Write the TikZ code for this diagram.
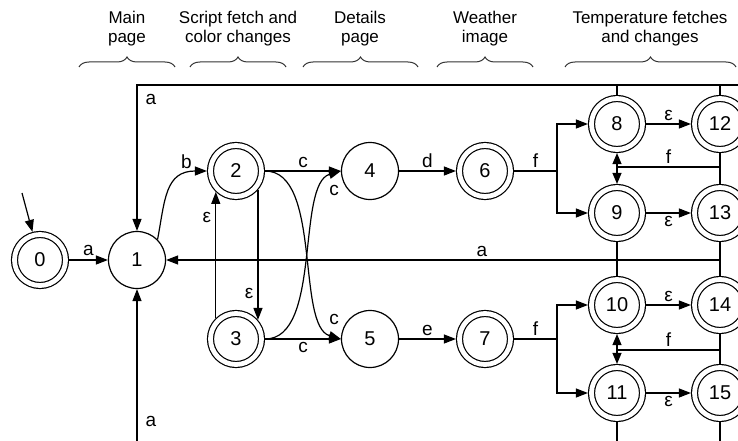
\documentclass[tikz,border=0pt]{standalone}
\usepackage{fontspec}
\setmainfont{Liberation Sans}
\usetikzlibrary{arrows.meta,decorations.pathreplacing}

\tikzset{
  state/.style={circle,draw,line width=1.2pt,minimum size=57pt,inner sep=0pt,outer sep=0.6pt,
    font=\fontsize{20}{22}\selectfont},
  accept/.style={state,double,double distance=4.8pt,minimum size=51pt,outer sep=3.6pt},
  edge/.style={line width=1.2pt,-{Triangle[length=12pt,width=9pt]}},
  both/.style={line width=1.2pt,{Triangle[length=11pt,width=9pt]}-{Triangle[length=11pt,width=9pt]}},
  wire/.style={line width=1.2pt},
  lbl/.style={font=\fontsize{19}{21}\selectfont,inner sep=2pt},
  brc/.style={line width=1pt,black!80,decorate,decoration={brace,amplitude=10pt}},
  head/.style={align=center,font=\fontsize{17}{19}\selectfont}
}

\begin{document}
\begin{tikzpicture}[x=1pt,y=-1pt]
  \useasboundingbox (0,0) rectangle (738,441);

  % headers
  \foreach \nm/\x/\txt/\l/\r in {hMain/127/{Main\\page}/79/175,
      hScript/238/{Script fetch and\\color changes}/190/286,
      hDetails/360/{Details\\page}/303/418,
      hWeather/485/{Weather\\image}/437/533,
      hTemp/650/{Temperature fetches\\and changes}/565/736} {
    \node[head] (\nm) at (\x,29) {\txt};
    \draw[brc] (\l,67) -- (\r,67);
  }

  % states
  \node[accept] (q0) at (40,260) {0};
  \node[state] (q1) at (137,260) {1};
  \node[accept] (q2) at (236,171) {2};
  \node[accept] (q3) at (236,339) {3};
  \node[state] (q4) at (370,171) {4};
  \node[state] (q5) at (370,339) {5};
  \node[accept] (q6) at (485,171) {6};
  \node[accept] (q7) at (485,339) {7};
  \foreach \n/\y in {8/124,9/213,10/305,11/393}
    \node[accept] (q\n) at (617,\y) {\n};
  \foreach \n/\y in {12/124,13/213,14/305,15/393}
    \node[accept] (q\n) at (720,\y) {\n};

  % free ends
  \coordinate (start) at (22,193);
  \coordinate (topR) at (738,85);
  \coordinate (topL) at (137,85);
  \coordinate (botA) at (137,441);
  \coordinate (midR) at (720,260);
  \coordinate (j6) at (557,171);
  \coordinate (j7) at (557,339);
  \coordinate (f1) at (720,167);
  \coordinate (f2) at (720,350);
  \coordinate (bot11) at (617,441);
  \coordinate (bot15) at (720,441);

  \draw[edge] (start) -- (q0);
  \draw[edge] (q0) -- node[lbl,above=2pt] {a} (q1);

  % returns to 1
  \draw[edge] (topR) -- (topL) -- node[lbl,pos=0.1,right=6pt] {a} (q1);
  \draw[wire] (q8) -- (q8 |- topR);
  \draw[wire] (q12) -- (q12 |- topR);
  \draw[edge] (botA) -- node[lbl,pos=0.13,right=6pt] {a} (q1);
  \draw[edge] (midR) -- node[lbl,pos=0.43,above=1pt] {a} (q1);

  % script fetch
  \draw[edge] (q1.45) .. controls (165,200) and (165,171) .. node[lbl,pos=0.8,above=3pt] {b} (q2.west);
  \draw[edge] (q2.-41) -- node[lbl,pos=0.8,left=2pt] {ε} (q3.41);
  \draw[edge] (q3.134) -- node[lbl,pos=0.8,left=2pt] {ε} (q2.226);
  \draw[edge] (q2) -- node[lbl,above=1pt] {c} (q4);
  \draw[edge] (q3) -- node[lbl,below=1pt] {c} (q5);
  \draw[edge] (q2.east) .. controls (322,171) and (296,326) .. node[lbl,pos=0.82,right=4pt] {c} (q5.west);
  \draw[edge] (q3.east) .. controls (322,339) and (296,184) .. node[lbl,pos=0.82,right=4pt] {c} (q4.west);

  % details and weather
  \draw[edge] (q4) -- node[lbl,above=1pt] {d} (q6);
  \draw[edge] (q5) -- node[lbl,above=1pt] {e} (q7);
  \draw[wire] (q6) -- node[lbl,above=1pt] {f} (j6);
  \draw[edge] (j6) |- (q8);
  \draw[edge] (j6) |- (q9);
  \draw[wire] (q7) -- node[lbl,above=1pt] {f} (j7);
  \draw[edge] (j7) |- (q10);
  \draw[edge] (j7) |- (q11);

  % temperature
  \draw[edge] (q8) -- node[lbl,above=1pt] {ε} (q12);
  \draw[edge] (q9) -- node[lbl,below=1pt] {ε} (q13);
  \draw[edge] (q10) -- node[lbl,above=1pt] {ε} (q14);
  \draw[edge] (q11) -- node[lbl,below=1pt] {ε} (q15);
  \draw[both] (q8) -- (q9);
  \draw[both] (q10) -- (q11);
  \draw[wire] (f1) -- node[lbl,above=1pt] {f} (f1 -| q8);
  \draw[wire] (f2) -- node[lbl,above=1pt] {f} (f2 -| q10);
  \draw[wire] (q12) -- (q13);
  \draw[wire] (q13) -- (q14);
  \draw[wire] (q14) -- (q15);
  \draw[wire] (q9) -- (q10);
  \draw[wire] (q11) -- (bot11);
  \draw[wire] (q15) -- (bot15);
\end{tikzpicture}
\end{document}
